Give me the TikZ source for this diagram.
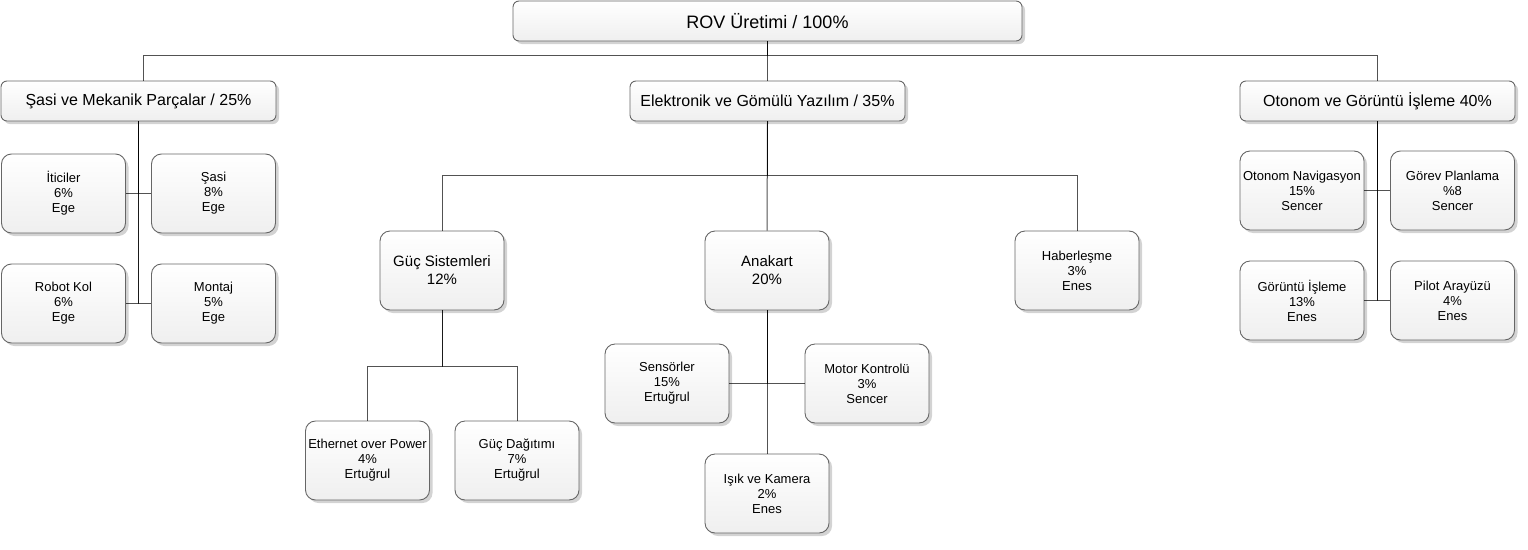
\documentclass[tikz,border=0pt]{standalone}
\usepackage{fontspec}
\setmainfont{Liberation Sans}
\usetikzlibrary{shadows}
\definecolor{boxline}{HTML}{666666}
\definecolor{boxbot}{HTML}{EFEFEF}
\tikzset{
  basebox/.style={draw=boxline, line width=0.9pt, top color=white, bottom color=boxbot,
    align=center, inner sep=0pt, text=black,
    drop shadow={shadow xshift=3pt, shadow yshift=-3pt, opacity=0.35, fill=gray}},
  rootbox/.style={basebox, rounded corners=6pt, minimum width=509pt, minimum height=40pt,
    font=\fontsize{18}{21}\selectfont},
  topbox/.style={basebox, rounded corners=6pt, minimum width=275pt, minimum height=40pt,
    font=\fontsize{16}{19}\selectfont},
  bigbox/.style={basebox, rounded corners=10pt, minimum width=124pt, minimum height=79pt,
    font=\fontsize{15}{18}\selectfont},
  smallbox/.style={basebox, rounded corners=10pt, minimum width=124pt, minimum height=79pt,
    font=\fontsize{13}{15}\selectfont},
  edge/.style={draw=black, draw opacity=0.68, line width=1pt}
}
\begin{document}
\begin{tikzpicture}[x=1pt,y=-1pt]
\useasboundingbox (0,0) rectangle (1528,549);
% nodes
\node[rootbox] (root) at (767.5,21) {ROV Üretimi / 100\%};
\node[topbox] (mech) at (138.5,101) {Şasi ve Mekanik Parçalar / 25\%};
\node[topbox] (elec) at (767.5,101) {Elektronik ve Gömülü Yazılım / 35\%};
\node[topbox] (auto) at (1377.5,101) {Otonom ve Görüntü İşleme 40\%};

\node[smallbox] (itic) at (63.5,193.5) {İticiler\\6\%\\Ege};
\node[smallbox] (sasi) at (213.5,193.5) {Şasi\\8\%\\Ege};
\node[smallbox] (robot) at (63.5,303.5) {Robot Kol\\6\%\\Ege};
\node[smallbox] (montaj) at (213.5,303.5) {Montaj\\5\%\\Ege};

\node[bigbox] (guc) at (442,270.5) {Güç Sistemleri\\12\%};
\node[bigbox] (ana) at (767,270.5) {Anakart\\20\%};
\node[smallbox] (haber) at (1077,270.5) {Haberleşme\\3\%\\Enes};

\node[smallbox] (eth) at (367.5,460.5) {Ethernet over Power\\4\%\\Ertuğrul};
\node[smallbox] (gucd) at (517,460.5) {Güç Dağıtımı\\7\%\\Ertuğrul};

\node[smallbox] (sens) at (667,383.5) {Sensörler\\15\%\\Ertuğrul};
\node[smallbox] (motor) at (867,383.5) {Motor Kontrolü\\3\%\\Sencer};
\node[smallbox] (isik) at (767,493.5) {Işık ve Kamera\\2\%\\Enes};

\node[smallbox] (nav) at (1302,190.5) {Otonom Navigasyon\\15\%\\Sencer};
\node[smallbox] (gorev) at (1452.5,190.5) {Görev Planlama\\\%8\\Sencer};
\node[smallbox] (goruntu) at (1302,300.5) {Görüntü İşleme\\13\%\\Enes};
\node[smallbox] (pilot) at (1452.5,300.5) {Pilot Arayüzü\\4\%\\Enes};

% connectors
\begin{scope}[on background layer/.style={}]
\draw[edge] (root.south) -- ++(0,14) -| ([xshift=4.5pt]mech.north);
\draw[edge] (root.south) -- (elec.north);
\draw[edge] (root.south) -- ++(0,14) -| (auto.north);

\draw[edge] (mech.south) |- (itic.east);
\draw[edge] (mech.south) |- (sasi.west);
\draw[edge] (mech.south) |- (robot.east);
\draw[edge] (mech.south) |- (montaj.west);

\draw[edge] (elec.south) -- ++(0,54) -| (guc.north);
\draw[edge] (elec.south) -- (ana.north);
\draw[edge] (elec.south) -- ++(0,54) -| (haber.north);

\draw[edge] (guc.south) -- ++(0,56) -| (eth.north);
\draw[edge] (guc.south) -- ++(0,56) -| (gucd.north);

\draw[edge] (ana.south) |- (sens.east);
\draw[edge] (ana.south) |- (motor.west);
\draw[edge] (ana.south) -- (isik.north);

\draw[edge] (auto.south) |- (nav.east);
\draw[edge] (auto.south) |- (gorev.west);
\draw[edge] (auto.south) |- (goruntu.east);
\draw[edge] (auto.south) |- (pilot.west);
\end{scope}
\end{tikzpicture}
\end{document}
